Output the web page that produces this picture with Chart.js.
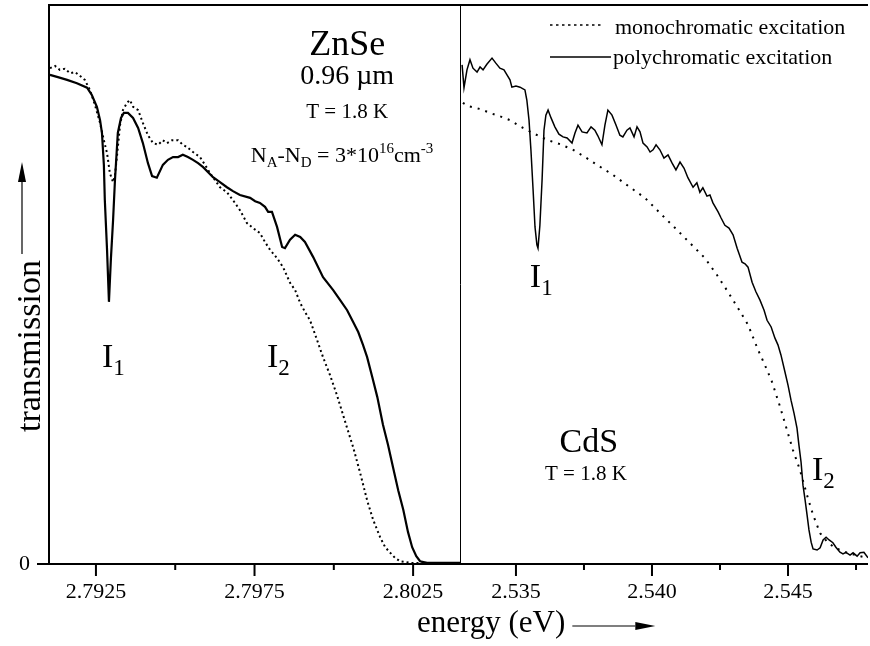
<!DOCTYPE html>
<html>
<head>
<meta charset="utf-8">
<title>ZnSe / CdS transmission</title>
<script src="https://cdn.jsdelivr.net/npm/chart.js@4.4.1/dist/chart.umd.min.js"></script>
<style>
  html, body { margin: 0; padding: 0; background: #fff; overflow: hidden; }
  #wrap { position: relative; width: 870px; height: 646px; }
  #wrap canvas { position: absolute; left: 0; top: 0; }
</style>
</head>
<body>
<div id="wrap">
  <canvas id="znse-chart" width="870" height="646"></canvas>
  <canvas id="cds-chart" width="870" height="646"></canvas>
</div>
<script>
// ---- data (energy in eV, transmission in arbitrary units, 0 = opaque) ----

// ZnSe, polychromatic excitation (solid)
const znsePolyEnergy = [2.79105, 2.79130, 2.79159, 2.79190, 2.79222, 2.79237, 2.79253, 2.79263, 2.79269, 2.79275,
  2.79278, 2.79285, 2.79291, 2.79297, 2.79304, 2.79310, 2.79319, 2.79329, 2.79338, 2.79351,
  2.79367, 2.79383, 2.79398, 2.79414, 2.79427, 2.79442, 2.79461, 2.79477, 2.79493, 2.79509,
  2.79524, 2.79540, 2.79556, 2.79572, 2.79588, 2.79619, 2.79641, 2.79663, 2.79682, 2.79704,
  2.79736, 2.79752, 2.79767, 2.79783, 2.79793, 2.79805, 2.79821, 2.79837, 2.79846, 2.79862,
  2.79878, 2.79894, 2.79909, 2.79935, 2.79966, 2.79998, 2.80020, 2.80042, 2.80061, 2.80077,
  2.80092, 2.80105, 2.80121, 2.80137, 2.80155, 2.80171, 2.80187, 2.80203, 2.80219, 2.80234,
  2.80247, 2.80260, 2.80272, 2.80294, 2.80400];
const znsePoly = [87.5, 87.1, 86.6, 86.0, 85.2, 83.9, 81.8, 79.4, 77.1, 71.4,
  65.1, 56.2, 46.9, 54.4, 61.5, 68.7, 77.1, 79.8, 80.7, 80.7,
  79.8, 78.0, 75.3, 71.7, 69.4, 69.1, 71.4, 72.3, 72.8, 72.8,
  73.2, 72.8, 72.3, 71.7, 71.0, 69.2, 68.3, 67.4, 66.7, 66.0,
  65.5, 64.9, 64.6, 63.9, 63.0, 63.0, 60.3, 56.7, 56.5, 58.0,
  58.9, 58.5, 57.6, 54.9, 51.3, 49.0, 47.2, 45.4, 43.3, 41.5,
  39.2, 37.0, 33.5, 29.9, 24.9, 21.3, 17.2, 13.2, 9.7, 5.7,
  3.0, 1.4, 0.5, 0.2, 0.2];

// ZnSe, monochromatic excitation (dotted)
const znseMonoEnergy = [2.79105, 2.79121, 2.79136, 2.79152, 2.79168, 2.79184, 2.79200, 2.79215, 2.79231, 2.79247,
  2.79263, 2.79275, 2.79285, 2.79294, 2.79304, 2.79310, 2.79316, 2.79326, 2.79335, 2.79348,
  2.79357, 2.79367, 2.79383, 2.79398, 2.79414, 2.79430, 2.79446, 2.79461, 2.79474, 2.79490,
  2.79509, 2.79524, 2.79537, 2.79556, 2.79578, 2.79594, 2.79610, 2.79625, 2.79641, 2.79663,
  2.79682, 2.79704, 2.79726, 2.79745, 2.79767, 2.79783, 2.79799, 2.79821, 2.79840, 2.79862,
  2.79878, 2.79894, 2.79909, 2.79925, 2.79947, 2.79966, 2.79988, 2.80010, 2.80029, 2.80042,
  2.80061, 2.80083, 2.80105, 2.80124, 2.80146, 2.80162, 2.80178, 2.80193, 2.80209, 2.80241,
  2.80400];
const znseMono = [88.7, 89.1, 88.4, 88.6, 87.8, 88.0, 87.3, 86.6, 84.8, 82.1,
  78.9, 75.8, 73.5, 69.9, 68.3, 69.6, 72.8, 78.5, 81.2, 82.5,
  83.0, 81.8, 81.2, 78.9, 76.7, 75.3, 75.0, 75.8, 75.3, 75.8,
  75.8, 75.0, 74.6, 73.7, 72.8, 71.4, 69.9, 68.7, 67.4, 66.5,
  65.1, 63.3, 61.0, 60.1, 59.2, 57.6, 56.2, 54.7, 53.1, 50.3,
  49.0, 46.7, 45.1, 43.6, 40.1, 37.0, 33.8, 30.2, 26.7, 24.3,
  20.9, 16.3, 11.4, 7.9, 4.8, 3.0, 2.0, 1.1, 0.5, 0.2,
  0.2];

// CdS, polychromatic excitation (solid)
const cdsPolyEnergy = [2.53302, 2.53309, 2.53320, 2.53331, 2.53342, 2.53357, 2.53368, 2.53379, 2.53393, 2.53412,
  2.53426, 2.53441, 2.53456, 2.53467, 2.53478, 2.53485, 2.53500, 2.53515, 2.53533, 2.53540,
  2.53548, 2.53555, 2.53563, 2.53570, 2.53577, 2.53581, 2.53588, 2.53596, 2.53603, 2.53610,
  2.53618, 2.53629, 2.53643, 2.53658, 2.53673, 2.53688, 2.53706, 2.53717, 2.53728, 2.53743,
  2.53761, 2.53776, 2.53790, 2.53801, 2.53816, 2.53827, 2.53838, 2.53853, 2.53868, 2.53882,
  2.53893, 2.53908, 2.53919, 2.53934, 2.53945, 2.53956, 2.53967, 2.53982, 2.53993, 2.54004,
  2.54015, 2.54029, 2.54044, 2.54059, 2.54074, 2.54088, 2.54103, 2.54118, 2.54132, 2.54151,
  2.54165, 2.54176, 2.54187, 2.54202, 2.54213, 2.54224, 2.54243, 2.54254, 2.54268, 2.54283,
  2.54298, 2.54313, 2.54331, 2.54342, 2.54353, 2.54368, 2.54382, 2.54397, 2.54412, 2.54423,
  2.54438, 2.54452, 2.54463, 2.54474, 2.54489, 2.54500, 2.54511, 2.54522, 2.54533, 2.54540,
  2.54548, 2.54555, 2.54563, 2.54570, 2.54577, 2.54585, 2.54592, 2.54607, 2.54618, 2.54629,
  2.54640, 2.54651, 2.54665, 2.54676, 2.54691, 2.54702, 2.54713, 2.54728, 2.54739, 2.54754,
  2.54765, 2.54779, 2.54794];
const cdsPoly = [89.3, 85.2, 88.4, 90.2, 88.7, 88.0, 88.9, 88.4, 89.4, 90.5,
  89.6, 88.7, 88.4, 87.5, 86.6, 85.3, 85.5, 85.3, 84.8, 83.0,
  79.4, 74.1, 66.9, 60.3, 57.1, 56.5, 60.6, 68.7, 77.6, 80.3,
  81.2, 79.8, 78.2, 76.9, 76.4, 76.2, 75.3, 77.1, 78.5, 77.3,
  77.1, 78.2, 77.6, 76.6, 75.0, 78.5, 81.2, 80.3, 78.5, 76.7,
  76.4, 77.6, 78.0, 76.4, 78.2, 77.3, 75.3, 74.6, 73.7, 74.1,
  75.0, 74.1, 72.6, 73.2, 71.7, 70.5, 71.9, 70.8, 69.1, 67.4,
  68.2, 66.5, 67.3, 65.8, 66.0, 64.6, 63.0, 61.9, 60.6, 60.1,
  58.9, 56.5, 54.0, 53.7, 53.1, 50.4, 48.7, 47.2, 45.4, 43.6,
  42.4, 40.4, 39.2, 37.4, 34.3, 32.0, 29.3, 27.0, 24.3, 21.3,
  18.2, 14.1, 11.4, 8.8, 6.1, 3.9, 2.7, 2.5, 2.9, 4.3,
  4.8, 4.3, 3.8, 3.0, 2.1, 1.8, 2.1, 1.6, 2.0, 1.4,
  2.0, 2.1, 1.1];

// CdS, monochromatic excitation (dotted)
const cdsMonoEnergy = [2.53305, 2.53324, 2.53368, 2.53404, 2.53441, 2.53478, 2.53526, 2.53570, 2.53618, 2.53662,
  2.53710, 2.53754, 2.53798, 2.53857, 2.53919, 2.53974, 2.54029, 2.54085, 2.54140, 2.54195,
  2.54239, 2.54279, 2.54316, 2.54353, 2.54390, 2.54415, 2.54441, 2.54471, 2.54496, 2.54518,
  2.54544, 2.54570, 2.54592, 2.54618, 2.54647, 2.54673, 2.54717, 2.54765, 2.54794];
const cdsMono = [82.5, 81.9, 81.4, 80.7, 80.1, 79.4, 78.0, 76.9, 75.8, 75.1,
  74.1, 72.8, 71.4, 69.6, 67.4, 65.5, 62.8, 60.1, 57.4, 54.7,
  51.7, 48.7, 45.8, 42.8, 38.3, 35.6, 32.6, 28.1, 24.0, 20.4,
  16.8, 12.3, 8.8, 5.5, 3.8, 2.9, 2.0, 1.4, 1.1];

// axes
const znseRange = [2.79102, 2.80401];
const znseTicks = [2.7925, 2.7950, 2.7975, 2.8000, 2.8025];
const znseTickLabels = ['2.7925', '', '2.7975', '', '2.8025'];
const cdsRange = [2.53298, 2.54794];
const cdsTicks = [2.5350, 2.5375, 2.5400, 2.5425, 2.5450, 2.5475];
const cdsTickLabels = ['2.535', '', '2.540', '', '2.545', ''];
const yTicks = [0];
const yTickLabels = ['0'];

const seriesNames = ['monochromatic excitation', 'polychromatic excitation'];

// ---- helpers ----
const SERIF = '"Liberation Serif", "Times New Roman", serif';

function font(size) {
    return size + 'px ' + SERIF;
}

function toPoints(xs, ys) {
    return xs.map((x, i) => ({ x: x, y: ys[i] }));
}

// text made of runs, some of them sub- or superscript
function drawRuns(ctx, runs, x, y, size, align) {
    const small = Math.round(size * 0.68);
    const widths = runs.map(r => {
        ctx.font = font(r.pos ? small : size);
        return ctx.measureText(r.t).width;
    });
    const total = widths.reduce((a, b) => a + b, 0);
    let cx = align === 'center' ? x - total / 2 : x;
    runs.forEach((r, i) => {
        ctx.font = font(r.pos ? small : size);
        let dy = 0;
        if (r.pos === 'sub') dy = size * 0.24;
        if (r.pos === 'sup') dy = -size * 0.42;
        ctx.fillText(r.t, cx, y + dy);
        cx += widths[i];
    });
}

function arrow(ctx, x0, y0, x1, y1) {
    const ang = Math.atan2(y1 - y0, x1 - x0);
    const head = 20, half = 4;
    ctx.lineWidth = 1.2;
    ctx.beginPath();
    ctx.moveTo(x0, y0);
    ctx.lineTo(x1 - head * Math.cos(ang), y1 - head * Math.sin(ang));
    ctx.stroke();
    ctx.beginPath();
    ctx.moveTo(x1, y1);
    ctx.lineTo(x1 - head * Math.cos(ang) - half * Math.sin(ang), y1 - head * Math.sin(ang) + half * Math.cos(ang));
    ctx.lineTo(x1 - head * Math.cos(ang) + half * Math.sin(ang), y1 - head * Math.sin(ang) - half * Math.cos(ang));
    ctx.closePath();
    ctx.fill();
}

// frame, divider and tick marks
const framePlugin = {
    id: 'frame',
    afterDraw(chart, args, opts) {
        const ctx = chart.ctx, a = chart.chartArea;
        const xs = chart.scales.x, ys = chart.scales.y;
        ctx.save();
        ctx.strokeStyle = '#000';
        ctx.lineWidth = 2;
        ctx.beginPath();
        ctx.moveTo(a.left, a.top);
        ctx.lineTo(a.right, a.top);
        ctx.moveTo(a.left, a.bottom);
        ctx.lineTo(a.right, a.bottom);
        xs.ticks.forEach(t => {
            const px = xs.getPixelForValue(t.value);
            ctx.moveTo(px, a.bottom);
            ctx.lineTo(px, a.bottom + (t.label ? 12 : 6));
        });
        if (opts.zeroTick) {
            const py = ys.getPixelForValue(0);
            ctx.moveTo(a.left - 12, py);
            ctx.lineTo(a.left, py);
        }
        ctx.stroke();
        ctx.lineWidth = opts.edgeWidth;
        const ex = opts.edgeWidth === 1 ? Math.round(a.left) - 0.5 : a.left;
        ctx.beginPath();
        ctx.moveTo(ex, a.top - 1);
        ctx.lineTo(ex, a.bottom + 1);
        ctx.stroke();
        ctx.restore();
    }
};

// labels placed in data coordinates
const notesPlugin = {
    id: 'notes',
    afterDatasetsDraw(chart, args, opts) {
        const ctx = chart.ctx, xs = chart.scales.x, ys = chart.scales.y;
        ctx.save();
        ctx.fillStyle = '#000';
        ctx.textBaseline = 'alphabetic';
        ctx.textAlign = 'left';
        (opts.items || []).forEach(n => {
            drawRuns(ctx, n.runs, xs.getPixelForValue(n.x), ys.getPixelForValue(n.y), n.size, n.align);
        });
        ctx.restore();
    }
};

// axis titles with arrows (drawn by the ZnSe chart, which spans the whole canvas)
const titlesPlugin = {
    id: 'titles',
    afterDraw(chart, args, opts) {
        const ctx = chart.ctx;
        ctx.save();
        ctx.fillStyle = '#000';
        ctx.strokeStyle = '#000';
        ctx.textBaseline = 'alphabetic';
        ctx.textAlign = 'left';
        // x title
        ctx.font = font(opts.xSize);
        ctx.fillText(opts.xText, opts.xLeft, opts.xBaseline);
        const xw = ctx.measureText(opts.xText).width;
        const ay = opts.xBaseline - 6;
        arrow(ctx, opts.xLeft + xw + 7, ay, opts.xLeft + xw + 90, ay);
        // y title
        ctx.font = font(opts.ySize);
        const yw = ctx.measureText(opts.yText).width;
        ctx.save();
        ctx.translate(opts.yBaseline, opts.yBottom);
        ctx.rotate(-Math.PI / 2);
        ctx.fillText(opts.yText, 0, 0);
        ctx.restore();
        const ax = opts.yBaseline - 18;
        arrow(ctx, ax, opts.yBottom - yw - 6, ax, opts.yBottom - yw - 98);
        ctx.restore();
    }
};

// legend in the upper right corner
const legendPlugin = {
    id: 'cornerLegend',
    afterDraw(chart, args, opts) {
        const ctx = chart.ctx;
        ctx.save();
        ctx.fillStyle = '#000';
        ctx.strokeStyle = '#000';
        ctx.font = font(opts.size);
        ctx.textBaseline = 'alphabetic';
        ctx.textAlign = 'left';
        opts.rows.forEach((row, i) => {
            ctx.lineWidth = row.width;
            ctx.setLineDash(row.dash);
            ctx.beginPath();
            ctx.moveTo(row.x0, row.y);
            ctx.lineTo(row.x1, row.y);
            ctx.stroke();
            ctx.setLineDash([]);
            ctx.fillText(chart.data.datasets[i].label, row.textX, row.baseline);
        });
        ctx.restore();
    }
};

function xScale(range, ticks, labels) {
    return {
        type: 'linear',
        min: range[0],
        max: range[1],
        afterBuildTicks: s => { s.ticks = ticks.map(v => ({ value: v })); },
        afterFit: s => { s.height = 82; s.paddingLeft = 0; s.paddingRight = 0; },
        grid: { display: false, drawTicks: false },
        border: { display: false },
        ticks: {
            autoSkip: false,
            maxRotation: 0,
            padding: 15,
            color: '#000',
            font: { family: SERIF, size: 22 },
            callback: (v, i) => labels[i]
        }
    };
}

Chart.defaults.animation = false;

// ---- ZnSe panel (left) ----
new Chart(document.getElementById('znse-chart'), {
    type: 'line',
    data: {
        datasets: [
            {
                label: seriesNames[0],
                data: toPoints(znseMonoEnergy, znseMono),
                borderColor: '#000',
                borderWidth: 2,
                borderDash: [2, 3],
                pointRadius: 0,
                tension: 0
            },
            {
                label: seriesNames[1],
                data: toPoints(znsePolyEnergy, znsePoly),
                borderColor: '#000',
                borderWidth: 2.2,
                pointRadius: 0,
                tension: 0
            }
        ]
    },
    options: {
        responsive: false,
        events: [],
        layout: { padding: { left: 0, top: 5, right: 409, bottom: 0 } },
        scales: {
            x: xScale(znseRange, znseTicks, znseTickLabels),
            y: {
                type: 'linear',
                min: 0,
                max: 100,
                afterBuildTicks: s => { s.ticks = yTicks.map(v => ({ value: v })); },
                afterFit: s => { s.width = 49; s.paddingTop = 0; s.paddingBottom = 0; },
                grid: { display: false, drawTicks: false },
                border: { display: false },
                ticks: {
                    padding: 19,
                    color: '#000',
                    font: { family: SERIF, size: 22 },
                    callback: (v, i) => yTickLabels[i]
                }
            }
        },
        plugins: {
            legend: { display: false },
            tooltip: { enabled: false },
            frame: { edgeWidth: 2, zeroTick: true },
            notes: {
                items: [
                    { x: 2.80042, y: 91.1, size: 36, align: 'center', runs: [{ t: 'ZnSe' }] },
                    { x: 2.80042, y: 85.9, size: 28, align: 'center', runs: [{ t: '0.96 \u00b5m' }] },
                    { x: 2.80042, y: 79.8, size: 21, align: 'center', runs: [{ t: 'T = 1.8 K' }] },
                    { x: 2.80026, y: 71.9, size: 22, align: 'center', runs: [
                        { t: 'N' }, { t: 'A', pos: 'sub' }, { t: '-N' }, { t: 'D', pos: 'sub' },
                        { t: ' = 3*10' }, { t: '16', pos: 'sup' }, { t: 'cm' }, { t: '-3', pos: 'sup' }
                    ] },
                    { x: 2.79269, y: 35.2, size: 34, align: 'left', runs: [{ t: 'I' }, { t: '1', pos: 'sub' }] },
                    { x: 2.79789, y: 35.2, size: 34, align: 'left', runs: [{ t: 'I' }, { t: '2', pos: 'sub' }] }
                ]
            },
            titles: {
                xSize: 31,
                xText: 'energy (eV)',
                xLeft: 417,
                xBaseline: 632,
                ySize: 34,
                yText: 'transmission',
                yBaseline: 40,
                yBottom: 432
            }
        }
    },
    plugins: [framePlugin, notesPlugin, titlesPlugin]
});

// ---- CdS panel (right) ----
new Chart(document.getElementById('cds-chart'), {
    type: 'line',
    data: {
        datasets: [
            {
                label: seriesNames[0],
                data: toPoints(cdsMonoEnergy, cdsMono),
                borderColor: '#000',
                borderWidth: 2,
                borderDash: [2, 6],
                pointRadius: 0,
                tension: 0
            },
            {
                label: seriesNames[1],
                data: toPoints(cdsPolyEnergy, cdsPoly),
                borderColor: '#000',
                borderWidth: 1.5,
                pointRadius: 0,
                tension: 0
            }
        ]
    },
    options: {
        responsive: false,
        events: [],
        layout: { padding: { left: 461, top: 5, right: 2, bottom: 0 } },
        scales: {
            x: xScale(cdsRange, cdsTicks, cdsTickLabels),
            y: { type: 'linear', min: 0, max: 100, display: false }
        },
        plugins: {
            legend: { display: false },
            tooltip: { enabled: false },
            frame: { edgeWidth: 1, zeroTick: false },
            notes: {
                items: [
                    { x: 2.53551, y: 49.6, size: 34, align: 'left', runs: [{ t: 'I' }, { t: '1', pos: 'sub' }] },
                    { x: 2.54588, y: 15.0, size: 34, align: 'left', runs: [{ t: 'I' }, { t: '2', pos: 'sub' }] },
                    { x: 2.53768, y: 20.0, size: 34, align: 'center', runs: [{ t: 'CdS' }] },
                    { x: 2.53757, y: 15.0, size: 21, align: 'center', runs: [{ t: 'T = 1.8 K' }] }
                ]
            },
            cornerLegend: {
                size: 22,
                rows: [
                    { x0: 550, x1: 604, y: 25, dash: [2.5, 3.5], width: 1.5, textX: 615, baseline: 34 },
                    { x0: 550, x1: 611, y: 57, dash: [], width: 1.5, textX: 613, baseline: 64 }
                ]
            }
        }
    },
    plugins: [framePlugin, notesPlugin, legendPlugin]
});
</script>
</body>
</html>
